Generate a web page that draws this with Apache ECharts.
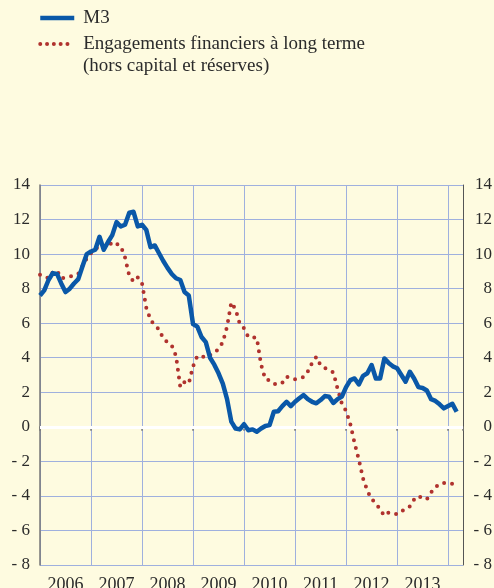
<!DOCTYPE html>
<html>
<head>
<meta charset="UTF-8">
<title>M3 et engagements financiers à long terme</title>
<script src="https://cdn.jsdelivr.net/npm/echarts@6/dist/echarts.min.js"></script>
<style>
  html, body { margin: 0; padding: 0; background: #fefbe0; }
  #main { width: 494px; height: 588px; }
</style>
</head>
<body>
<div id="main"></div>
<script>
// mensuel, de janvier 2006 à mars 2014 (index 0 = janv. 2006)
var years = ['2006', '2007', '2008', '2009', '2010', '2011', '2012', '2013'];
var m3 = [
  7.6, 7.9, 8.5, 8.9, 8.85, 8.3, 7.8, 8.0, 8.3, 8.55, 9.3, 10.0,
  10.15, 10.25, 11.0, 10.25, 10.7, 11.1, 11.85, 11.6, 11.7, 12.4, 12.45, 11.6,
  11.7, 11.4, 10.4, 10.5, 10.05, 9.6, 9.2, 8.85, 8.6, 8.5, 7.8, 7.6,
  5.95, 5.8, 5.2, 4.9, 4.0, 3.6, 3.1, 2.5, 1.6, 0.3, -0.1, -0.15,
  0.15, -0.2, -0.15, -0.29, -0.1, 0.05, 0.1, 0.87, 0.9, 1.2, 1.45, 1.2,
  1.45, 1.65, 1.84, 1.6, 1.45, 1.36, 1.55, 1.78, 1.74, 1.38, 1.6, 1.75,
  2.3, 2.7, 2.8, 2.45, 2.95, 3.1, 3.58, 2.8, 2.8, 3.96, 3.7, 3.5,
  3.39, 3.0, 2.61, 3.19, 2.8, 2.3, 2.25, 2.1, 1.6, 1.5, 1.3, 1.07,
  1.2, 1.33, 0.87
];
var engagements = [
  8.8, 8.7, 8.6, 8.95, 9.05, 8.6, 8.65, 8.7, 8.75, 8.85, 9.3, 9.75,
  10.05, 10.3, 10.45, 10.45, 10.4, 10.7, 10.6, 10.45, 9.8, 8.75, 8.4, 8.65,
  8.3, 6.9, 6.2, 5.85, 5.65, 5.1, 4.9, 4.7, 4.1, 2.3, 2.6, 2.5,
  3.5, 4.1, 4.1, 4.0, 4.15, 4.3, 4.5, 4.9, 5.8, 7.2, 6.8, 5.95,
  5.7, 5.2, 5.18, 5.15, 3.6, 2.75, 2.7, 2.5, 2.45, 2.55, 2.9, 2.85,
  2.75, 2.8, 2.88, 3.2, 3.7, 4.05, 3.56, 3.4, 3.3, 3.15, 2.2, 1.35,
  0.92, 0.15, -0.94, -1.9, -3.0, -3.7, -4.2, -4.4, -4.8, -5.15, -4.96, -5.0,
  -5.07, -4.9, -4.75, -4.6, -4.2, -4.0, -4.15, -4.2, -3.8, -3.5, -3.3, -3.25,
  -3.25, -3.3, -3.3
];

function toPairs(arr) {
  return arr.map(function (v, i) { return [i, v]; });
}
function fmtY(v) {
  return v < 0 ? '- ' + (-v) : String(v);
}

var serif = '"Liberation Serif", "DejaVu Serif", serif';
var gridColor = '#9fb0de';
var blue = '#0a58a8', red = '#b0322e';

var myChart = echarts.init(document.getElementById('main'));
var option = {
  backgroundColor: '#fefbe0',
  animation: false,
  legend: {
    orient: 'vertical',
    left: 38,
    top: 7,
    padding: 0,
    itemWidth: 34,
    itemHeight: 14,
    itemGap: 4,
    itemStyle: { opacity: 0 },
    textStyle: { fontFamily: serif, fontSize: 19, lineHeight: 22, color: '#2b2b2b', padding: [0, 0, 0, 4] },
    data: [
      { name: 'M3', lineStyle: { color: blue, width: 4.5 } },
      { name: 'Engagements financiers à long terme', lineStyle: { color: red, width: 4, type: [0, 6.8], cap: 'round' } }
    ]
  },
  graphic: [{
    type: 'text',
    left: 83,
    top: 57,
    style: { text: '(hors capital et réserves)', font: '19px ' + serif, fill: '#2b2b2b' }
  }],
  grid: { left: 40, right: 31, top: 185, bottom: 23, outerBoundsMode: 'none' },
  xAxis: {
    type: 'value',
    min: 0,
    max: 99.5,
    interval: 12,
    axisLine: { show: true, lineStyle: { color: '#777', width: 1.5 } },
    axisTick: { show: true, length: 4, lineStyle: { color: '#777', width: 1.5 } },
    splitLine: { show: true, lineStyle: { color: gridColor, width: 1 } },
    axisLabel: {
      margin: 11,
      padding: [0, 0, 0, 51],
      fontFamily: serif,
      fontSize: 18,
      color: '#2b2b2b',
      formatter: function (v) {
        var k = Math.round(v / 12);
        if (Math.abs(v - k * 12) > 0.01 || k >= years.length) return '';
        return years[k];
      }
    }
  },
  yAxis: [{
    type: 'value',
    min: -8,
    max: 14,
    interval: 2,
    position: 'left',
    axisLine: { show: true, lineStyle: { color: '#777', width: 1.5 } },
    axisTick: { show: false },
    splitLine: { show: true, lineStyle: { color: gridColor, width: 1 } },
    axisLabel: { margin: 10, fontFamily: serif, fontSize: 17, color: '#2b2b2b', formatter: fmtY }
  }, {
    type: 'value',
    min: -8,
    max: 14,
    interval: 2,
    position: 'right',
    axisLine: { show: true, lineStyle: { color: '#555', width: 1 } },
    axisTick: { show: false },
    splitLine: { show: false },
    axisLabel: { margin: 29, align: 'right', fontFamily: serif, fontSize: 17, color: '#2b2b2b', formatter: fmtY }
  }],
  series: [{
    name: 'Engagements financiers à long terme',
    type: 'line',
    data: toPairs(engagements),
    symbol: 'none',
    z: 3,
    lineStyle: { color: red, width: 4, type: [0, 8], cap: 'round' },
    itemStyle: { color: red },
    markLine: {
      silent: true,
      symbol: 'none',
      label: { show: false },
      lineStyle: { color: '#ffffff', width: 3, type: 'solid' },
      data: [{ yAxis: 0 }],
      z: 2
    }
  }, {
    name: 'M3',
    type: 'line',
    data: toPairs(m3),
    symbol: 'none',
    z: 4,
    lineStyle: { color: blue, width: 4.5, join: 'round' },
    itemStyle: { color: blue }
  }]
};
myChart.setOption(option);
</script>
</body>
</html>
